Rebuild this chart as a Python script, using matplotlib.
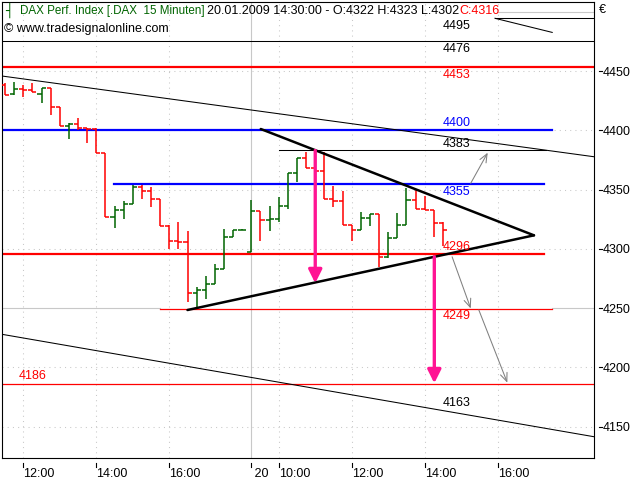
import numpy as np
import matplotlib.pyplot as plt
import matplotlib.transforms as mtransforms
from matplotlib.patches import FancyArrowPatch

plt.rcParams["font.family"] = ["Liberation Sans", "DejaVu Sans"]
plt.rcParams["font.size"] = 9

# 15 minute bars, x = bar number, 0 is the 12:00 bar of 19.01.2009
bar_idx = np.arange(-2, 47)
opens  = [4438, 4431, 4435, 4434, 4431, 4436, 4420, 4404, 4405, 4402, 4401, 4381,
          4327, 4333, 4338, 4352, 4349, 4342, 4319, 4307, 4306, 4263, 4265, 4270,
          4283, 4310, 4316, 4297, 4332, 4324, 4325, 4336, 4364, 4377, 4368, 4366,
          4342, 4340, 4320, 4316, 4326, 4329, 4293, 4309, 4320, 4341, 4334, 4333, 4322]
highs  = [4440, 4441, 4438, 4440, 4436, 4436, 4420, 4406, 4410, 4402, 4402, 4381,
          4336, 4340, 4354, 4354, 4352, 4342, 4320, 4323, 4315, 4268, 4277, 4287,
          4317, 4316, 4316.5, 4341, 4332, 4336, 4344, 4364, 4377, 4382, 4383, 4382,
          4353, 4349, 4320, 4331, 4329, 4329, 4314, 4330, 4351, 4350, 4345, 4333, 4323]
lows   = [4430, 4430, 4428, 4432, 4423, 4413, 4404, 4393, 4400, 4389, 4381, 4327,
          4318, 4325, 4338, 4342, 4335, 4319, 4300, 4300, 4255, 4250, 4258, 4270,
          4283, 4310, 4316, 4297, 4307, 4315, 4323, 4334, 4356, 4368, 4362, 4342,
          4335, 4320, 4307, 4316, 4319, 4285, 4292, 4309, 4320, 4334, 4333, 4310, 4302]
closes = [4430, 4435, 4434, 4432, 4436, 4420, 4404, 4405, 4402, 4401, 4381, 4327,
          4333, 4338, 4352, 4349, 4342, 4319, 4307, 4306, 4263, 4265, 4270, 4283,
          4310, 4316, 4316, 4332, 4324, 4325, 4336, 4364, 4377, 4368, 4366, 4342,
          4340, 4320, 4316, 4326, 4329, 4293, 4309, 4320, 4341, 4334, 4333, 4322, 4316]

x_ticks  = [0, 8, 16, 24.94, 28, 36, 44, 52]
x_labels = ["12:00", "14:00", "16:00", " 20", "10:00", "12:00", "14:00", "16:00"]
y_ticks  = [4150, 4200, 4250, 4300, 4350, 4400, 4450]

# horizontal levels: value, from bar, to bar
level_vals = [4495, 4475, 4453, 4400, 4383, 4355, 4296, 4249, 4186]
level_from = [51.7, -3, -3, -3, 28.05, 9.96, -3, 14.96, -3]
level_to   = [63, 63, 63, 57.97, 57.3, 57.08, 57.08, 57.97, 63]

label_text = ["4495", "4476", "4453", "4400", "4383", "4355", "4296", "4249", "4186", "4163"]
label_x    = [45.92, 45.92, 45.92, 45.92, 45.92, 45.92, 45.92, 45.92, -0.54, 45.92]
label_y    = [4488.2, 4468.8, 4446.4, 4405.9, 4388.4, 4348.2, 4301.8, 4243.3, 4193.0, 4169.7]

# trend channel and triangle lines (bar, value)
channel_up   = [(-2.33, 4445.8), (62.55, 4377.7)]
channel_down = [(-2.33, 4227.9), (62.55, 4141.5)]
channel_top  = [(51.7, 4494.5), (57.97, 4482.6)]
tri_upper    = [(26.03, 4401.1), (55.97, 4311.4)]
tri_lower    = [(18.0, 4248.4), (55.97, 4311.4)]

pink_arrows = [((32.0, 4383), (32.0, 4271)), ((45.05, 4293.4), (45.05, 4186.6))]
gray_arrows = [((49.04, 4355.3), (50.9, 4381.1)),
               ((47.0, 4293.3), (49.04, 4249.7)),
               ((49.93, 4248.4), (53.05, 4187.1))]

RED = "#ff0000"
GREEN = "#006400"
BLUE = "#0000ff"
PINK = "#ff1493"
GRID = "#c8c8c8"

fig = plt.figure(figsize=(6.4, 4.8), dpi=100)
ax = fig.add_axes([2 / 640, (480 - 458.3) / 480, 592 / 640, (458.3 - 1.7) / 480])
ax.set_xlim(-2.33, 62.55)
ax.set_ylim(4123.3, 4508.5)

# grid
for t in [0, 8, 16, 28, 36, 44, 52]:
    ax.axvline(t, color=GRID, lw=0.75, ls=(0, (1, 4)), zorder=0)
ax.axvline(24.94, color=GRID, lw=0.8, zorder=0)
for v in [4150, 4200, 4300, 4350, 4400, 4450]:
    ax.axhline(v, color=GRID, lw=0.75, ls=(0, (1, 4)), zorder=0)
# solid 4250 line, hidden where the red 4249 level runs over it
ax.plot([-3, 14.96], [4250, 4250], color=GRID, lw=0.8, zorder=0)
ax.plot([57.97, 63], [4250, 4250], color=GRID, lw=0.8, zorder=0)
ax.axhline(4500, xmin=(51.9 + 2.33) / 64.88, color=GRID, lw=0.8, zorder=0)

# levels
level_col = ["k", "k", RED, BLUE, "k", BLUE, RED, RED, RED]
level_lw  = [0.75, 0.75, 1.6, 1.6, 0.75, 1.6, 1.6, 0.9, 0.9]
for v, a, b, c, w in zip(level_vals, level_from, level_to, level_col, level_lw):
    ax.plot([a, b], [v, v], color=c, lw=w, zorder=2)

for line in [channel_up, channel_down, channel_top]:
    xs, ys = zip(*line)
    ax.plot(xs, ys, color="k", lw=0.75, zorder=2)

# OHLC bars
bar_col = [GREEN if c >= o else RED for o, c in zip(opens, closes)]
ax.vlines(bar_idx, lows, highs, colors=bar_col, lw=1.1, zorder=3)
ax.hlines(opens, bar_idx - 0.45, bar_idx, colors=bar_col, lw=1.1, zorder=3)
ax.hlines(closes, bar_idx, bar_idx + 0.45, colors=bar_col, lw=1.1, zorder=3)

for line in [tri_upper, tri_lower]:
    xs, ys = zip(*line)
    ax.plot(xs, ys, color="k", lw=1.8, zorder=4, solid_capstyle="round")

for a, b in pink_arrows:
    ax.add_patch(FancyArrowPatch(a, b, arrowstyle="-|>,head_length=0.8,head_width=0.4",
                                 mutation_scale=10, color=PINK, lw=2.4,
                                 shrinkA=0, shrinkB=0, zorder=5))
for a, b in gray_arrows:
    ax.add_patch(FancyArrowPatch(a, b, arrowstyle="->,head_length=0.6,head_width=0.25",
                                 mutation_scale=10, color="#808080", lw=0.75,
                                 shrinkA=0, shrinkB=0, zorder=5))

label_col = ["k", "k", RED, BLUE, "k", BLUE, RED, RED, RED, "k"]
for t, x, y, c in zip(label_text, label_x, label_y, label_col):
    ax.text(x, y, t, color=c, fontsize=9, va="center", ha="left", zorder=6)

# axes look
for s in ax.spines.values():
    s.set_linewidth(0.8)
ax.yaxis.tick_right()
ax.set_yticks(y_ticks)
ax.set_yticklabels([str(v) for v in y_ticks])
ax.set_xticks(x_ticks)
ax.set_xticklabels(x_labels)
ax.tick_params(axis="y", length=0, pad=6.3, labelsize=9)
ax.tick_params(axis="x", length=0, pad=7.0, labelsize=9)
for lbl in ax.get_xticklabels():
    lbl.set_ha("left")

bx = mtransforms.blended_transform_factory(ax.transData, ax.transAxes)
for t in x_ticks:
    ax.plot([t, t], [-0.0096, -0.0184], transform=bx, color="k", lw=0.8, clip_on=False)
by = mtransforms.blended_transform_factory(ax.transAxes, ax.transData)
for v in y_ticks:
    ax.plot([1.009, 1.0135], [v, v], transform=by, color="k", lw=0.8, clip_on=False)

# header
def fx(px):
    return px / 640

def fy(py):
    return 1 - py / 480

fig.text(fx(5), fy(10.7), "┤", color=GREEN, fontsize=9, va="center", family="DejaVu Sans")
fig.text(fx(20), fy(10.7), "DAX Perf. Index [.DAX  15 Minuten]", color=GREEN,
         fontsize=8.4, va="center")
fig.text(fx(207), fy(10.7), "20.01.2009 14:30:00 - O:4322 H:4323 L:4302", color="k", va="center")
fig.text(fx(459), fy(10.7), "C:4316", color=RED, va="center")
fig.text(fx(4), fy(29), "© www.tradesignalonline.com", color="k", va="center")
fig.text(fx(599), fy(10), "€", color="k", va="center")

plt.savefig("out.png", dpi=100)
